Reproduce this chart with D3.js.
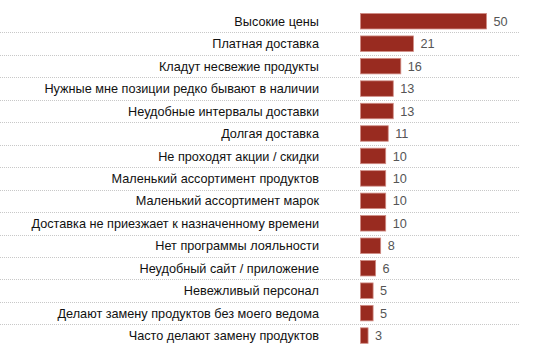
<!DOCTYPE html>
<html><head><meta charset="utf-8">
<script src="https://cdn.jsdelivr.net/npm/d3@7"></script>
<style>html,body{margin:0;padding:0;background:#fff;}svg{display:block;}</style>
</head><body>
<script>
const categories = [
  "Высокие цены",
  "Платная доставка",
  "Кладут несвежие продукты",
  "Нужные мне позиции редко бывают в наличии",
  "Неудобные интервалы доставки",
  "Долгая доставка",
  "Не проходят акции / скидки",
  "Маленький ассортимент продуктов",
  "Маленький ассортимент марок",
  "Доставка не приезжает к назначенному времени",
  "Нет программы лояльности",
  "Неудобный сайт / приложение",
  "Невежливый персонал",
  "Делают замену продуктов без моего ведома",
  "Часто делают замену продуктов"
];
const values = [50, 21, 16, 13, 13, 11, 10, 10, 10, 10, 8, 6, 5, 5, 3];

const W = 538, H = 349;
const svg = d3.select("body").append("svg").attr("width", W).attr("height", H);

const x = d3.scaleLinear().domain([0, 50]).range([360.5, 486.5]);
const y = d3.scaleBand().domain(categories).range([10, 346.8]).paddingInner(0.31).paddingOuter(0.155);
const step = y.step();

// dotted separators
svg.append("g").selectAll("line").data(categories.slice(1)).join("line")
  .attr("x1", 0).attr("x2", 520)
  .attr("y1", d => Math.round(y(d) - step * 0.31 / 2) + 0.5)
  .attr("y2", d => Math.round(y(d) - step * 0.31 / 2) + 0.5)
  .attr("stroke", "#c8c8c8").attr("stroke-width", 1).attr("stroke-dasharray", "1,1");

// bars
svg.append("g").selectAll("rect").data(values).join("rect")
  .attr("x", x(0))
  .attr("y", (d, i) => y(categories[i]))
  .attr("width", d => x(d) - x(0))
  .attr("height", y.bandwidth())
  .attr("fill", "#992b20")
  .attr("stroke", "#d08c84").attr("stroke-width", 0.8);

// category labels
svg.append("g").selectAll("text").data(categories).join("text")
  .attr("x", 319)
  .attr("y", d => y(d) + y.bandwidth() / 2)
  .attr("dy", "0.36em")
  .attr("text-anchor", "end")
  .attr("font-family", "'Liberation Sans', Arial, sans-serif")
  .attr("font-size", 12.7)
  .attr("fill", "#111")
  .text(d => d);

// value labels
svg.append("g").selectAll("text").data(values).join("text")
  .attr("x", d => x(d) + 7)
  .attr("y", (d, i) => y(categories[i]) + y.bandwidth() / 2)
  .attr("dy", "0.36em")
  .attr("font-family", "'Liberation Sans', Arial, sans-serif")
  .attr("font-size", 12.7)
  .attr("fill", "#555")
  .text(d => d);
</script>
</body></html>
